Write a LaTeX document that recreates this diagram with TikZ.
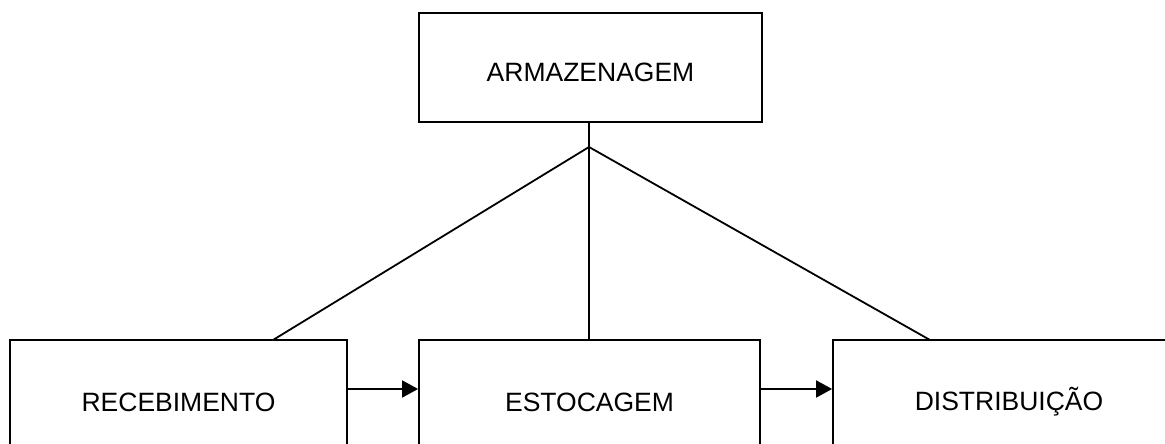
\documentclass[tikz,border=0pt]{standalone}
\usepackage{fontspec}
\setmainfont{Liberation Sans}
\usetikzlibrary{arrows.meta}
\begin{document}
\begin{tikzpicture}[x=1pt,y=1pt,
  box/.style={draw,line width=1.8pt,rectangle,inner sep=0pt,font=\fontsize{26.5}{30}\selectfont},
  conn/.style={line width=1.8pt},
  flow/.style={line width=1.8pt,-{Triangle[length=16pt,width=17pt]}}]
\useasboundingbox (0,0) rectangle (1165,444);
\clip (0,0) rectangle (1165,444);
\node[box,minimum width=343pt,minimum height=109pt,text height=29pt,text depth=0pt] (top) at (590.5,376.5) {ARMAZENAGEM};
\node[box,minimum width=337pt,minimum height=124pt] (rec) at (178.5,42) {RECEBIMENTO};
\node[box,minimum width=341pt,minimum height=124pt] (est) at (589.5,42) {ESTOCAGEM};
\node[box,minimum width=352pt,minimum height=124pt] (dis) at (1009,42) {DISTRIBUIÇÃO};
\coordinate (j) at (589,297);
\coordinate (rt) at (273,104);
\coordinate (dt) at (930,104);
\draw[conn] (j |- top.south) -- (j);
\draw[conn] (j) -- (rt);
\draw[conn] (j) -- (j |- est.north);
\draw[conn] (j) -- (dt);
\draw[flow] (rec.east |- 0,55) -- (est.west |- 0,55);
\draw[flow] (est.east |- 0,55) -- (dis.west |- 0,55);
\end{tikzpicture}
\end{document}
